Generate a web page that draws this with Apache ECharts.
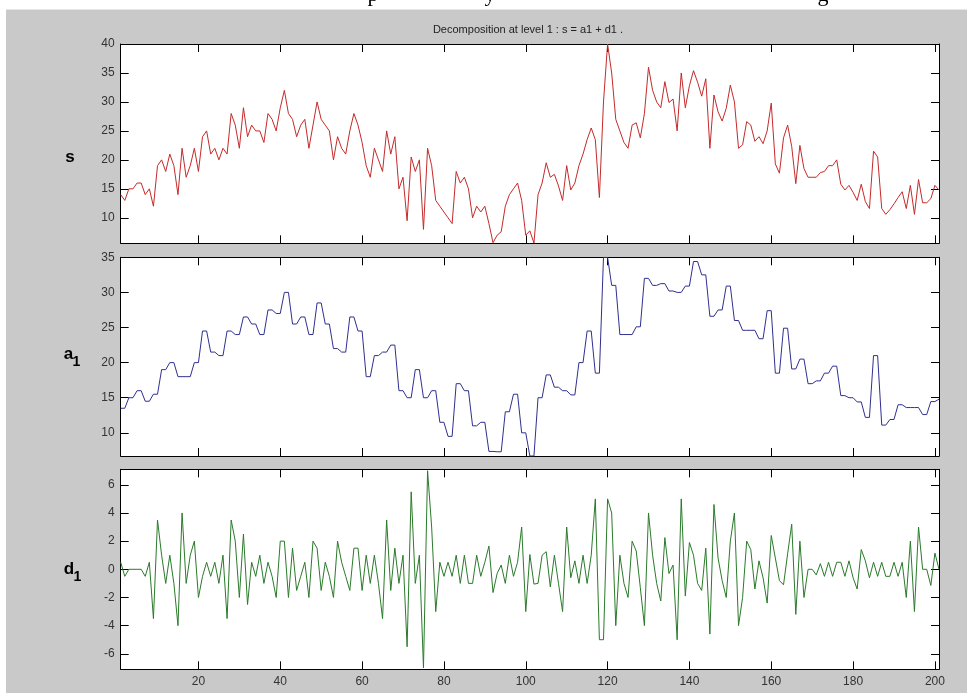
<!DOCTYPE html>
<html><head><meta charset="utf-8">
<script src="https://cdn.jsdelivr.net/npm/echarts@6/dist/echarts.min.js"></script>
<style>html,body{margin:0;padding:0;background:#fff;}#c{width:967px;height:693px;}</style>
</head><body><div id="c"></div>
<script>
const titleText = 'Decomposition at level 1 : s = a1 + d1 .';
const xTicks = [20, 40, 60, 80, 100, 120, 140, 160, 180, 200];
const sTicks = [10, 15, 20, 25, 30, 35, 40];
const aTicks = [10, 15, 20, 25, 30, 35];
const dTicks = [-6, -4, -2, 0, 2, 4, 6];

const sValues = [
14,13,15,15,16,16,14,15,12,19, 20,18,21,19,14,22,17,19,22,18,
24,25,21,22,20,22,21,28,26,22, 29,24,26,25,25,23,28,27,25,29,
32,28,27,24,26,27,22,26,30,27, 26,25,20,24,22,21,25,28,26,23,
19,17,22,20,18,25,21,24,15,17, 9.5,20.5,18,20,8,22,19,13,12,11,
10,9,18,16,17,15,10,12,11,12, 9,5.7,7,7.6,12,14,15,16,13,7,
7.75,5.65,14,16,19.5,17,17.5,15.5,13,19, 14.8,16,19,21,23.5,25.5,23.5,13.5,30,40,
35,27,25,23,22,26,26.4,23.8,28,36, 32,30,29,33.5,29.9,30.5,25,35,29,32.8,
35.4,33.4,31,34,22,31.2,28.3,26.7,28.9,32.9, 30,22,22.6,26.6,26,23.2,24,22.8,25,29.8,
19.3,17.7,23.8,26,22.3,15.9,22.5,18.5,17,17, 17,17.8,18,19,19,20,15.8,14.8,15.6,14.4,
13,15.8,12.8,11.6,21.5,20.5,11.6,10.6,11.4,12.4, 13.5,14.5,11.6,15.6,10.6,16.6,12.6,12.6,13.3,15.6,
14.8
];
const a1Values = [
13.5,13.5,15,15,16,16,14.5,14.5,15.5,15.5, 19,19,20,20,18,18,18,18,20,20,
24.5,24.5,21.5,21.5,21,21,24.5,24.5,24,24, 26.5,26.5,25.5,25.5,24,24,27.5,27.5,27,27,
30,30,25.5,25.5,26.5,26.5,24,24,28.5,28.5, 25.5,25.5,22,22,21.5,21.5,26.5,26.5,24.5,24.5,
18,18,21,21,21.5,21.5,22.5,22.5,16,16, 15,15,19,19,15,15,16,16,11.5,11.5,
9.5,9.5,17,17,16,16,11,11,11.5,11.5, 7.35,7.35,7.3,7.3,13,13,15.5,15.5,10,10,
6.7,6.7,15,15,18.25,18.25,16.5,16.5,16,16, 15.4,15.4,20,20,24.5,24.5,18.5,18.5,35,35,
31,31,24,24,24,24,25.1,25.1,32,32, 31,31,31.25,31.25,30.2,30.2,30,30,30.9,30.9,
34.4,34.4,32.5,32.5,26.6,26.6,27.5,27.5,30.9,30.9, 26,26,24.6,24.6,24.6,24.6,23.4,23.4,27.4,27.4,
18.5,18.5,24.9,24.9,19.1,19.1,20.5,20.5,17,17, 17.4,17.4,18.5,18.5,19.5,19.5,15.3,15.3,15,15,
14.4,14.4,12.2,12.2,21,21,11.1,11.1,11.9,11.9, 14,14,13.6,13.6,13.6,13.6,12.6,12.6,14.45,14.45,
14.8
];
const d1Values = [
0.5,-0.5,0,0,0,0,-0.5,0.5,-3.5,3.5, 1,-1,1,-1,-4,4,-1,1,2,-2,
-0.5,0.5,-0.5,0.5,-1,1,-3.5,3.5,2,-2, 2.5,-2.5,0.5,-0.5,1,-1,0.5,-0.5,-2,2,
2,-2,1.5,-1.5,-0.5,0.5,-2,2,1.5,-1.5, 0.5,-0.5,-2,2,0.5,-0.5,-1.5,1.5,1.5,-1.5,
1,-1,1,-1,-3.5,3.5,-1.5,1.5,-1,1, -5.5,5.5,-1,1,-7,7,3,-3,0.5,-0.5,
0.5,-0.5,1,-1,1,-1,-1,1,-0.5,0.5, 1.65,-1.65,-0.3,0.3,-1,1,-0.5,0.5,3,-3,
1.05,-1.05,-1,1,1.25,-1.25,1,-1,-3,3, -0.6,0.6,-1,1,-1,1,5,-5,-5,5,
4,-4,1,-1,-2,2,1.3,-1.3,-4,4, 1,-1,-2.25,2.25,-0.3,0.3,-5,5,-1.9,1.9,
1,-1,-1.5,1.5,-4.6,4.6,0.8,-0.8,-2,2, 4,-4,-2,2,1.4,-1.4,0.6,-0.6,-2.4,2.4,
0.8,-0.8,-1.1,1.1,3.2,-3.2,2,-2,0,0, -0.4,0.4,-0.5,0.5,-0.5,0.5,0.5,-0.5,0.6,-0.6,
-1.4,1.4,0.6,-0.6,0.5,-0.5,0.5,-0.5,-0.5,0.5, -0.5,0.5,-2,2,-3,3,0,0,-1.15,1.15,
0
];

const toPts = arr => arr.map((v, i) => [i + 1, v]);

const PL = 120.7, PW = 818.3;
const grids = [
  {left: PL, top: 44, width: PW, height: 199.3},
  {left: PL, top: 257.3, width: PW, height: 198.7},
  {left: PL, top: 469.3, width: PW, height: 200}
];
const yRanges = [[5.6, 40, sTicks], [6.7, 35, aTicks], [-7.1, 7.1, dTicks]];
const colors = ['#c42a2a', '#2f2f8f', '#2a7a2a'];
const datas = [sValues, a1Values, d1Values];

const lineStyle = {color: '#000', width: 1};
const labelFont = {color: '#333', fontSize: 12, fontFamily: 'Liberation Sans, Arial, sans-serif'};

const xAxes = [], yAxes = [], series = [];
grids.forEach((g, k) => {
  xAxes.push({
    type: 'value', gridIndex: k, min: 1, max: 201, position: 'bottom',
    axisLine: {show: true, onZero: false, lineStyle},
    axisTick: {show: true, inside: true, length: 8, customValues: xTicks, lineStyle},
    axisLabel: k === 2 ? Object.assign({show: true, margin: 6, customValues: xTicks}, labelFont) : {show: false},
    splitLine: {show: false}
  });
  xAxes.push({
    type: 'value', gridIndex: k, min: 1, max: 201, position: 'top',
    axisLine: {show: true, onZero: false, lineStyle},
    axisTick: {show: true, inside: true, length: 8, customValues: xTicks, lineStyle},
    axisLabel: {show: false}, splitLine: {show: false}
  });
  const [mn, mx, tk] = yRanges[k];
  yAxes.push({
    type: 'value', gridIndex: k, min: mn, max: mx, position: 'left',
    axisLine: {show: true, onZero: false, lineStyle},
    axisTick: {show: true, inside: true, length: 8, customValues: tk, lineStyle},
    axisLabel: Object.assign({show: true, margin: 6, customValues: tk}, labelFont),
    splitLine: {show: false}
  });
  yAxes.push({
    type: 'value', gridIndex: k, min: mn, max: mx, position: 'right',
    axisLine: {show: true, onZero: false, lineStyle},
    axisTick: {show: true, inside: true, length: 8, customValues: tk, lineStyle},
    axisLabel: {show: false}, splitLine: {show: false}
  });
  series.push({
    type: 'line', xAxisIndex: 2 * k, yAxisIndex: 2 * k, data: toPts(datas[k]),
    showSymbol: false, symbol: 'none', clip: true,
    lineStyle: {color: colors[k], width: 1}, z: 3
  });
});

const chart = echarts.init(document.getElementById('c'), null, {renderer: 'canvas'});
chart.setOption({
  animation: false,
  backgroundColor: '#ffffff',
  grid: grids.map(g => Object.assign({show: true, backgroundColor: '#ffffff', borderWidth: 0, outerBoundsMode: 'none', containLabel: false}, g)),
  xAxis: xAxes,
  yAxis: yAxes,
  series: series,
  graphic: [
    {type: 'rect', z: -10, silent: true, shape: {x: 6, y: 9, width: 961, height: 684}, style: {fill: '#c9c9c9'}},
    {type: 'text', z: -8, silent: true, style: {x: 373, y: 6, text: 'p', font: '22px "Liberation Serif", serif', fill: '#000', textAlign: 'center', textVerticalAlign: 'bottom'}},
    {type: 'text', z: -8, silent: true, style: {x: 490, y: 6, text: 'y', font: '22px "Liberation Serif", serif', fill: '#000', textAlign: 'center', textVerticalAlign: 'bottom'}},
    {type: 'text', z: -8, silent: true, style: {x: 823, y: 6, text: 'g', font: '22px "Liberation Serif", serif', fill: '#000', textAlign: 'center', textVerticalAlign: 'bottom'}},
    {type: 'rect', z: -7, silent: true, shape: {x: 6, y: 9, width: 961, height: 20}, style: {fill: '#c9c9c9'}},
    {type: 'line', z: -6, silent: true, shape: {x1: 6, y1: 9.5, x2: 967, y2: 9.5}, style: {stroke: '#e6e6e6', lineWidth: 1}},
    {type: 'text', silent: true, style: {x: 528, y: 30, text: titleText, font: '11px "Liberation Sans", Arial, sans-serif', fill: '#222', textAlign: 'center', textVerticalAlign: 'middle'}},
    {type: 'text', silent: true, style: {x: 70, y: 157, text: 's', font: 'bold 17px "Liberation Sans", Arial, sans-serif', fill: '#000', textAlign: 'center', textVerticalAlign: 'middle'}},
    {type: 'text', silent: true, style: {x: 68.5, y: 354, text: 'a', font: 'bold 17px "Liberation Sans", Arial, sans-serif', fill: '#000', textAlign: 'center', textVerticalAlign: 'middle'}},
    {type: 'text', silent: true, style: {x: 76.5, y: 362.5, text: '1', font: 'bold 14px "Liberation Sans", Arial, sans-serif', fill: '#000', textAlign: 'center', textVerticalAlign: 'middle'}},
    {type: 'text', silent: true, style: {x: 69, y: 569, text: 'd', font: 'bold 17px "Liberation Sans", Arial, sans-serif', fill: '#000', textAlign: 'center', textVerticalAlign: 'middle'}},
    {type: 'text', silent: true, style: {x: 77.5, y: 577.5, text: '1', font: 'bold 14px "Liberation Sans", Arial, sans-serif', fill: '#000', textAlign: 'center', textVerticalAlign: 'middle'}}
  ]
});
</script></body></html>
